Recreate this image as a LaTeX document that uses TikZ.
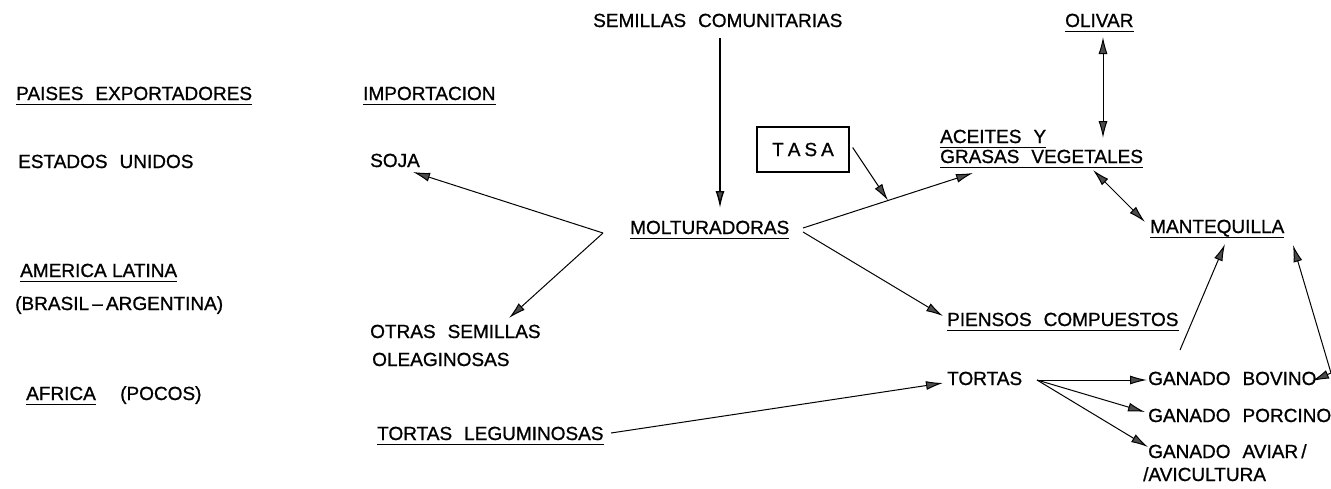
\documentclass[tikz,border=0pt]{standalone}
\usepackage{fontspec}
\setmainfont{Liberation Sans}
\newfontfamily\letfont[FakeBold=0.9,Ligatures=TeX]{Liberation Sans}
\usetikzlibrary{arrows.meta}
\newcommand{\gp}{\hspace{12pt}}
\newcommand{\ulin}[1]{\draw[line width=1.2pt] ([yshift=-4.5pt]#1.base west) -- ([yshift=-4.5pt]#1.base east);}
\begin{document}
\begin{tikzpicture}[x=1pt,y=-1pt,
  lbl/.style={inner sep=0pt, anchor=base west, font=\letfont\fontsize{19}{19}\selectfont},
  conn/.style={line width=1pt, -{Latex[length=17pt,width=9pt,fill=black!70]}},
  dconn/.style={line width=1pt, {Latex[length=17pt,width=9pt,fill=black!70]}-{Latex[length=17pt,width=9pt,fill=black!70]}},
  boxed/.style={draw, line width=1.3pt, minimum width=92pt, minimum height=45pt, inner sep=0pt, font=\letfont\fontsize{19}{19}\selectfont}
]
\useasboundingbox (0,0) rectangle (1331,488);

% left column
\node[lbl] (paises) at (16,100) {PAISES\gp EXPORTADORES};
\node[lbl] (estados) at (18,168) {ESTADOS\gp UNIDOS};
\node[lbl] (america) at (20,277) {AMERICA LATINA};
\node[lbl] (brasil) at (15,310) {(BRASIL\,\textendash\,ARGENTINA)};
\node[lbl] (africa) at (26,400) {AFRICA};
\node[lbl] (pocos) at (120,400) {(POCOS)};

% second column
\node[lbl] (importacion) at (363,100) {IMPORTACION};
\node[lbl] (soja) at (370,167) {SOJA};
\node[lbl] (otras) at (370,338) {OTRAS\gp SEMILLAS};
\node[lbl] (oleag) at (372,366) {OLEAGINOSAS};
\node[lbl] (tleg) at (377,440) {TORTAS\gp LEGUMINOSAS};

% centre
\node[lbl] (semcom) at (593,27) {SEMILLAS\gp COMUNITARIAS};
\node[boxed] (tasa) at (803,149.5) {T\hspace{4pt}A\hspace{4pt}S\hspace{4pt}A};
\node[lbl] (molt) at (630,234) {MOLTURADORAS};

% right
\node[lbl] (olivar) at (1065,27) {OLIVAR};
\node[lbl] (aceites) at (940,143) {ACEITES\gp Y};
\node[lbl] (grasas) at (940,163) {GRASAS\gp VEGETALES};
\node[lbl] (mant) at (1150,233) {MANTEQUILLA};
\node[lbl] (piensos) at (947,326) {PIENSOS\gp COMPUESTOS};
\node[lbl] (tortas) at (947,385) {TORTAS};
\node[lbl] (bovino) at (1148,385) {GANADO\gp BOVINO};
\node[lbl] (porcino) at (1148,422) {GANADO\gp PORCINO};
\node[lbl] (aviar) at (1148,458) {GANADO\gp AVIAR\,/};
\node[lbl] (avicult) at (1143,481) {/AVICULTURA};

% underlines
\ulin{paises}
\ulin{importacion}
\ulin{america}
\ulin{africa}
\ulin{tleg}
\ulin{molt}
\ulin{olivar}
\ulin{aceites}
\ulin{grasas}
\ulin{mant}
\ulin{piensos}

% connectors
\draw[conn, line width=1.4pt] ([shift={(127,11)}]semcom.base west) -- ([shift={(90,-26)}]molt.base west);

\coordinate (br) at ([shift={(-27,-1)}]molt.base west);
\draw[conn] (br) -- ([shift={(43,5)}]soja.base west);
\draw[conn] (br) -- ([shift={(139,-20)}]otras.base west);

\draw[conn] ([shift={(173,-6)}]molt.base west) -- coordinate[pos=0.5] (mid) ([shift={(33,10)}]grasas.base west);
\draw[conn] ([shift={(3,-2)}]tasa.east) -- (mid);

\draw[dconn] ([shift={(38,10)}]olivar.base west) -- ([shift={(163,-25)}]grasas.base west);
\draw[dconn] ([shift={(153,7)}]grasas.base west) -- ([shift={(-5,-11)}]mant.base west);

\draw[conn] ([shift={(173,-2)}]molt.base west) -- ([shift={(-4,-10)}]piensos.base west);
\draw[conn] ([shift={(234,-7)}]tleg.base west) -- ([shift={(-4,-2)}]tortas.base west);

\coordinate (tor) at ([shift={(90,-5)}]tortas.base west);
\draw[conn] (tor) -- ([shift={(-1,-5)}]bovino.base west);
\draw[conn] (tor) -- ([shift={(-3,-10)}]porcino.base west);
\draw[conn] (tor) -- ([shift={(0,-11)}]aviar.base west);

\draw[conn] ([shift={(32,-35)}]bovino.base west) -- ([shift={(75,11)}]mant.base west);
\draw[dconn] ([shift={(164,-4)}]bovino.base west) -- ([shift={(183,-12)}]bovino.base west) -- ([shift={(143,12)}]mant.base west);
\end{tikzpicture}
\end{document}
